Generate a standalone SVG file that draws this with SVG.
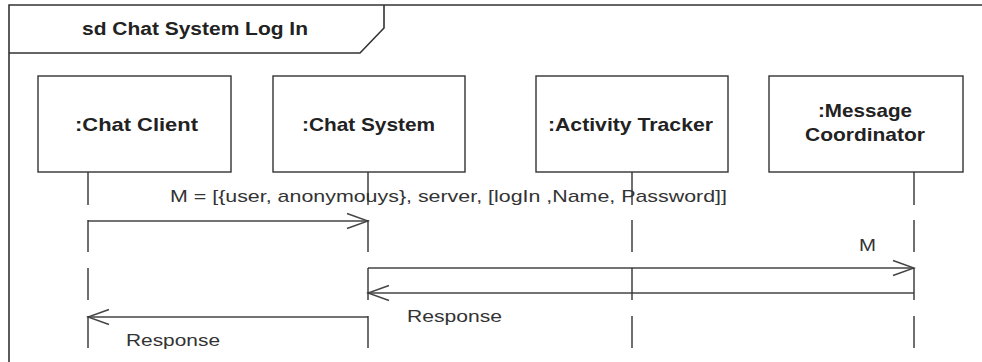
<svg xmlns="http://www.w3.org/2000/svg" width="982" height="362" viewBox="0 0 982 362">
<style>
.frame{fill:none;stroke:#333;stroke-width:1.6}
.box{fill:#fff;stroke:#333;stroke-width:1.4}
.life{fill:none;stroke:#333;stroke-width:1.4;stroke-dasharray:33 15 32 16 32 16 32}
.msg{fill:none;stroke:#444;stroke-width:1.4;marker-end:url(#arr)}
.bt{font-family:"Liberation Sans",Arial,sans-serif;font-weight:bold;font-size:19px;fill:#222}
.mt{font-family:"Liberation Sans",Arial,sans-serif;font-size:17px;fill:#333}
</style>
<defs>
<marker id="arr" viewBox="-23 -9 25 18" refX="0" refY="0" markerWidth="25" markerHeight="18" markerUnits="userSpaceOnUse" orient="auto">
<path d="M-21,-7.5 L0,0 L-21,7.5" fill="none" stroke="#444" stroke-width="1.4"/>
</marker>
</defs>
<rect width="982" height="362" fill="#fff"/>
<g id="frame">
<path class="frame" d="M9,400 L9,5 L990,5"/>
<path class="frame" d="M9,53 L360,53 L384,28 L384,5"/>
<text class="bt" x="82" y="35" textLength="226" lengthAdjust="spacingAndGlyphs" style="font-size:18px">sd Chat System Log In</text>
</g>
<g id="connectors">
<line class="msg" x1="88" y1="221" x2="368" y2="221"/>
<text class="mt" x="170" y="202" textLength="557" lengthAdjust="spacingAndGlyphs">M = [{user, anonymouys}, server, [logIn ,Name, Password]]</text>
<line class="msg" x1="368" y1="268" x2="914" y2="268"/>
<text class="mt" x="859" y="251" textLength="17" lengthAdjust="spacingAndGlyphs">M</text>
<line class="msg" x1="914" y1="293" x2="368" y2="293"/>
<text class="mt" x="407" y="322" textLength="95" lengthAdjust="spacingAndGlyphs">Response</text>
<line class="msg" x1="368" y1="317" x2="88" y2="317"/>
<text class="mt" x="126" y="346" textLength="94" lengthAdjust="spacingAndGlyphs">Response</text>
</g>
<g id="chat-client">
<rect class="box" x="38" y="76" width="193" height="96"/>
<text class="bt" x="75" y="131" textLength="123" lengthAdjust="spacingAndGlyphs">:Chat Client</text>
<line class="life" x1="88" y1="172" x2="88" y2="348"/>
</g>
<g id="chat-system">
<rect class="box" x="273" y="76" width="192" height="96"/>
<text class="bt" x="302" y="131" textLength="133" lengthAdjust="spacingAndGlyphs">:Chat System</text>
<line class="life" x1="368" y1="172" x2="368" y2="348"/>
</g>
<g id="activity-tracker">
<rect class="box" x="536" y="76" width="192" height="96"/>
<text class="bt" x="548" y="131" textLength="165" lengthAdjust="spacingAndGlyphs">:Activity Tracker</text>
<line class="life" x1="632" y1="172" x2="632" y2="348"/>
</g>
<g id="message-coordinator">
<rect class="box" x="769" y="76" width="194" height="96"/>
<text class="bt" x="818" y="117" textLength="94" lengthAdjust="spacingAndGlyphs">:Message</text>
<text class="bt" x="805" y="141" textLength="120" lengthAdjust="spacingAndGlyphs">Coordinator</text>
<line class="life" x1="914" y1="172" x2="914" y2="348"/>
</g>
</svg>
